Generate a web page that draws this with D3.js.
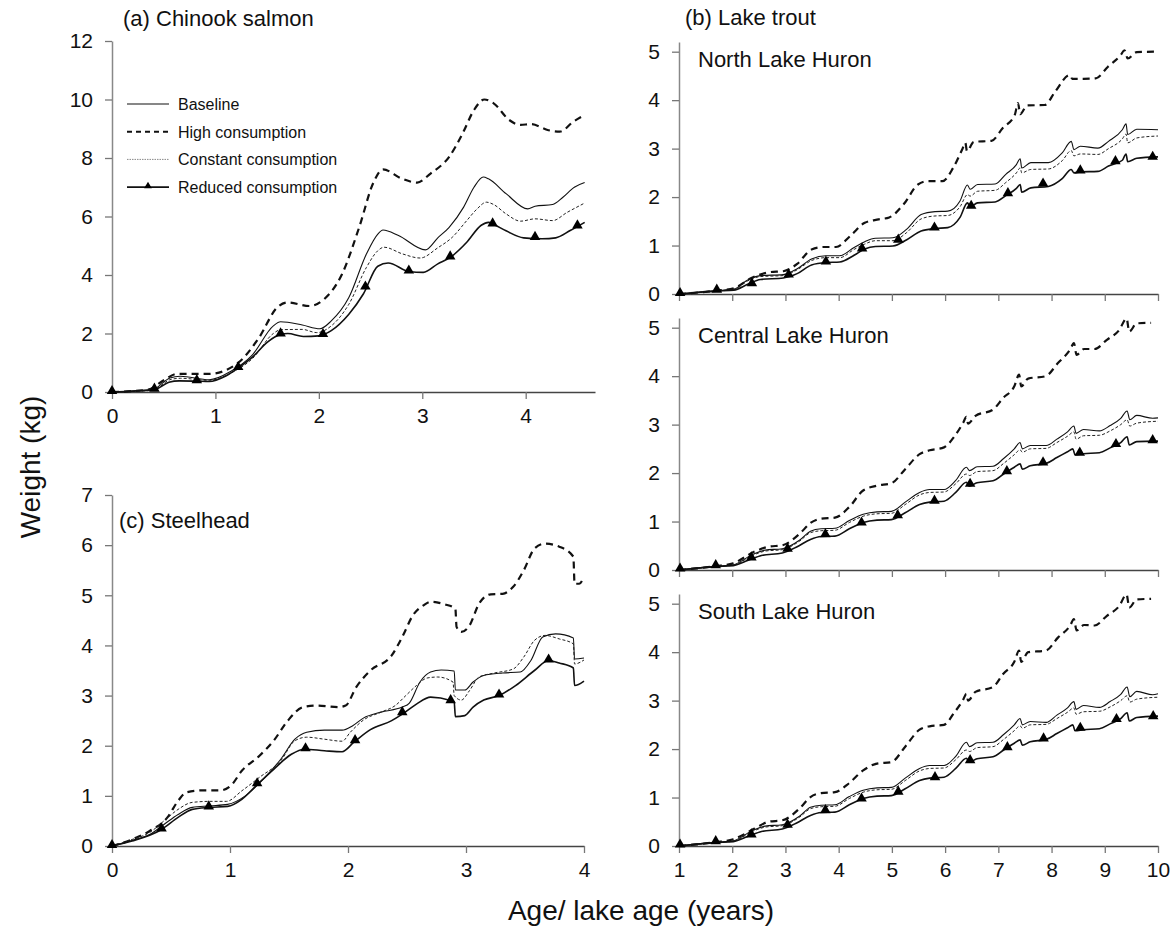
<!DOCTYPE html>
<html>
<head>
<meta charset="utf-8">
<script src="https://cdn.jsdelivr.net/npm/d3@7"></script>
<style>
  html, body { margin: 0; padding: 0; background: #fff; }
  svg { display: block; font-family: "Liberation Sans", Arial, sans-serif; }
</style>
</head>
<body>
<svg id="chart" width="1171" height="930"></svg>
<script>
// ---- Scenario names ----
const scenarios = ["Baseline", "High consumption", "Constant consumption", "Reduced consumption"];

// ---- (a) Chinook salmon: [age, weight kg] ----
const chinookBaseline = [[0,0],[0.39,0.08],[0.56,0.48],[0.66,0.54],[0.94,0.42],[1.15,0.71],[1.36,1.28],[1.56,2.26],[1.63,2.4],[1.84,2.29],[2.01,2.16],[2.12,2.43],[2.29,3.23],[2.46,4.72],[2.57,5.4],[2.62,5.54],[2.77,5.35],[3.03,4.86],[3.15,5.27],[3.26,5.63],[3.4,6.32],[3.5,7.0],[3.59,7.35],[3.64,7.29],[3.81,6.78],[4.02,6.26],[4.09,6.35],[4.26,6.41],[4.36,6.66],[4.47,7.0],[4.57,7.16]];
const chinookHigh = [[0,0],[0.35,0.08],[0.5,0.4],[0.63,0.62],[0.94,0.62],[1.22,1.0],[1.42,1.85],[1.6,2.9],[1.7,3.06],[1.91,2.94],[2.05,3.17],[2.22,4.0],[2.39,5.63],[2.53,7.18],[2.62,7.61],[2.8,7.3],[2.95,7.16],[3.08,7.47],[3.26,8.04],[3.39,8.84],[3.5,9.64],[3.6,10.0],[3.69,9.87],[3.84,9.3],[3.95,9.13],[4.05,9.16],[4.22,8.95],[4.33,8.9],[4.46,9.24],[4.57,9.47]];
const chinookConstant = [[0,0],[0.4,0.06],[0.56,0.42],[0.66,0.47],[0.94,0.4],[1.15,0.65],[1.36,1.15],[1.56,2.0],[1.63,2.13],[1.84,2.14],[1.98,2.03],[2.12,2.26],[2.29,3.0],[2.46,4.26],[2.57,4.83],[2.63,4.95],[2.81,4.72],[2.98,4.58],[3.15,4.93],[3.29,5.29],[3.43,5.86],[3.53,6.26],[3.62,6.49],[3.69,6.41],[3.81,6.09],[3.95,5.84],[4.09,5.92],[4.26,5.86],[4.4,6.14],[4.57,6.46]];
const chinookReduced = [[0,0],[0.41,0.08],[0.55,0.33],[0.65,0.38],[0.82,0.37],[0.94,0.36],[1.1,0.55],[1.22,0.82],[1.36,1.2],[1.5,1.7],[1.63,1.97],[1.7,2.0],[1.85,1.9],[2.0,1.92],[2.12,2.1],[2.29,2.66],[2.43,3.35],[2.57,4.3],[2.67,4.41],[2.87,4.12],[3.01,4.09],[3.15,4.38],[3.27,4.6],[3.43,5.12],[3.57,5.7],[3.64,5.8],[3.69,5.73],[3.81,5.51],[3.98,5.27],[4.16,5.24],[4.29,5.27],[4.43,5.52],[4.57,5.8]];
const chinookMarkers = [[0,0],[0.41,0.08],[0.82,0.37],[1.22,0.82],[1.63,1.97],[2.04,1.95],[2.45,3.57],[2.87,4.12],[3.27,4.6],[3.68,5.73],[4.09,5.27],[4.5,5.66]];

// ---- (c) Steelhead ----
const steelBaseline = [[0,0],[0.17,0.11],[0.32,0.23],[0.44,0.43],[0.56,0.63],[0.68,0.77],[0.83,0.8],[0.98,0.83],[1.13,1.0],[1.28,1.33],[1.43,1.73],[1.55,2.13],[1.65,2.27],[1.8,2.31],[1.95,2.31],[2.04,2.4],[2.13,2.55],[2.28,2.67],[2.46,2.77],[2.52,2.85],[2.61,3.27],[2.7,3.47],[2.79,3.51],[2.9,3.49],[2.91,3.11],[2.99,3.11],[3.06,3.27],[3.15,3.4],[3.31,3.45],[3.46,3.47],[3.55,3.7],[3.65,4.17],[3.76,4.23],[3.91,4.15],[3.92,3.73],[4.0,3.75]];
const steelHigh = [[0,0],[0.17,0.13],[0.32,0.3],[0.47,0.57],[0.56,0.9],[0.63,1.07],[0.77,1.11],[0.92,1.11],[1.01,1.21],[1.1,1.5],[1.25,1.8],[1.37,2.1],[1.49,2.5],[1.62,2.77],[1.74,2.8],[1.92,2.77],[1.98,2.8],[2.07,3.17],[2.19,3.5],[2.37,3.8],[2.46,4.17],[2.55,4.6],[2.64,4.8],[2.7,4.87],[2.82,4.82],[2.91,4.73],[2.92,4.37],[2.96,4.27],[3.03,4.4],[3.11,4.83],[3.21,5.02],[3.31,5.03],[3.4,5.17],[3.49,5.5],[3.58,5.93],[3.67,6.03],[3.79,5.97],[3.91,5.77],[3.92,5.23],[3.96,5.23],[4.0,5.37]];
const steelConstant = [[0,0],[0.17,0.13],[0.32,0.27],[0.44,0.5],[0.56,0.73],[0.68,0.87],[0.83,0.89],[0.97,0.89],[1.1,1.1],[1.25,1.37],[1.43,1.7],[1.55,2.1],[1.65,2.17],[1.8,2.13],[1.95,2.09],[2.02,2.27],[2.13,2.51],[2.28,2.67],[2.4,2.8],[2.49,3.0],[2.58,3.2],[2.67,3.35],[2.76,3.37],[2.89,3.27],[2.9,3.0],[2.96,2.91],[3.03,3.1],[3.11,3.37],[3.24,3.45],[3.4,3.53],[3.49,3.77],[3.58,4.1],[3.67,4.2],[3.79,4.13],[3.91,4.03],[3.92,3.63],[4.0,3.71]];
const steelReduced = [[0,0],[0.17,0.1],[0.42,0.33],[0.56,0.57],[0.68,0.73],[0.82,0.77],[0.98,0.79],[1.1,0.93],[1.22,1.2],[1.37,1.53],[1.52,1.83],[1.63,1.93],[1.8,1.9],[1.95,1.88],[2.05,2.07],[2.19,2.32],[2.37,2.5],[2.46,2.63],[2.58,2.83],[2.7,2.97],[2.87,2.9],[2.9,2.87],[2.91,2.58],[2.99,2.6],[3.06,2.77],[3.15,2.91],[3.28,3.0],[3.42,3.2],[3.58,3.5],[3.7,3.7],[3.79,3.65],[3.91,3.55],[3.92,3.2],[4.0,3.29]];
const steelMarkers = [[0,0],[0.42,0.33],[0.82,0.77],[1.23,1.23],[1.64,1.93],[2.06,2.09],[2.46,2.65],[2.87,2.89],[3.28,3.0],[3.7,3.7]];

// ---- (b) Lake trout, North Lake Huron: [lake age, weight kg] ----
const northBaseline = [[1,0],[1.7,0.07],[2.03,0.1],[2.29,0.29],[2.53,0.38],[2.96,0.4],[3.22,0.52],[3.49,0.72],[3.76,0.79],[4.02,0.79],[4.29,0.96],[4.49,1.08],[4.69,1.15],[5.02,1.16],[5.28,1.34],[5.55,1.64],[5.81,1.7],[6.05,1.71],[6.28,1.92],[6.42,2.25],[6.47,2.16],[6.61,2.26],[6.94,2.27],[7.14,2.47],[7.34,2.67],[7.41,2.79],[7.44,2.6],[7.61,2.71],[7.94,2.71],[8.2,2.91],[8.37,3.15],[8.42,2.98],[8.54,3.05],[8.87,3.01],[9.07,3.15],[9.33,3.39],[9.4,3.51],[9.43,3.29],[9.6,3.4],[10.0,3.39]];
const northHigh = [[1,0],[1.7,0.07],[2.03,0.12],[2.36,0.33],[2.7,0.45],[2.96,0.47],[3.22,0.62],[3.49,0.92],[3.72,0.97],[3.95,0.97],[4.22,1.2],[4.49,1.47],[4.75,1.54],[4.95,1.58],[5.22,1.85],[5.49,2.26],[5.68,2.33],[5.95,2.33],[6.15,2.6],[6.32,2.98],[6.38,3.12],[6.41,2.95],[6.54,3.14],[6.87,3.16],[7.08,3.42],[7.31,3.7],[7.37,3.94],[7.41,3.71],[7.54,3.89],[7.87,3.9],[8.07,4.18],[8.34,4.52],[8.39,4.44],[8.6,4.44],[8.83,4.45],[9.06,4.69],[9.3,4.93],[9.37,5.03],[9.43,4.86],[9.6,4.99],[9.93,5.0]];
const northConstant = [[1,0],[1.7,0.06],[2.03,0.09],[2.29,0.27],[2.53,0.36],[2.96,0.38],[3.22,0.5],[3.49,0.69],[3.76,0.75],[4.02,0.75],[4.29,0.92],[4.49,1.03],[4.69,1.1],[5.02,1.1],[5.28,1.27],[5.55,1.55],[5.81,1.61],[6.05,1.62],[6.28,1.8],[6.42,2.05],[6.47,2.02],[6.61,2.12],[6.94,2.14],[7.14,2.3],[7.34,2.5],[7.41,2.6],[7.44,2.5],[7.61,2.57],[7.94,2.58],[8.2,2.75],[8.37,2.96],[8.42,2.85],[8.54,2.89],[8.87,2.88],[9.07,3.0],[9.33,3.2],[9.4,3.3],[9.43,3.12],[9.6,3.22],[10.0,3.26]];
const northReduced = [[1,0],[1.7,0.06],[2.03,0.08],[2.29,0.2],[2.53,0.3],[2.96,0.33],[3.22,0.42],[3.49,0.6],[3.76,0.65],[4.02,0.66],[4.29,0.8],[4.49,0.93],[4.69,0.98],[5.02,0.99],[5.28,1.12],[5.55,1.3],[5.81,1.35],[6.05,1.37],[6.28,1.58],[6.42,1.88],[6.47,1.8],[6.61,1.88],[6.94,1.9],[7.14,2.03],[7.34,2.18],[7.41,2.26],[7.44,2.1],[7.61,2.19],[7.94,2.22],[8.2,2.38],[8.37,2.57],[8.42,2.5],[8.54,2.52],[8.87,2.53],[9.07,2.64],[9.33,2.76],[9.4,2.89],[9.43,2.73],[9.6,2.8],[10.0,2.83]];
const northMarkers = [[1.02,0],[1.71,0.07],[2.37,0.2],[3.06,0.38],[3.76,0.65],[4.44,0.92],[5.12,1.1],[5.8,1.35],[6.49,1.8],[7.18,2.06],[7.84,2.26],[8.54,2.53],[9.2,2.72],[9.9,2.81]];

// ---- (b) Lake trout, Central Lake Huron ----
const centralBaseline = [[1,0],[1.69,0.08],[2.02,0.11],[2.4,0.33],[2.62,0.41],[2.94,0.44],[3.27,0.62],[3.47,0.8],[3.67,0.85],[3.93,0.86],[4.2,1.02],[4.46,1.15],[4.72,1.2],[4.99,1.21],[5.25,1.4],[5.52,1.6],[5.71,1.66],[5.98,1.66],[6.2,1.85],[6.4,2.12],[6.46,2.05],[6.6,2.13],[6.9,2.14],[7.1,2.3],[7.3,2.5],[7.41,2.63],[7.45,2.5],[7.6,2.57],[7.9,2.57],[8.1,2.7],[8.3,2.85],[8.42,2.97],[8.46,2.82],[8.6,2.9],[8.9,2.87],[9.1,2.98],[9.3,3.13],[9.42,3.28],[9.47,3.1],[9.6,3.19],[9.9,3.13],[10.0,3.14]];
const centralHigh = [[1,0],[1.69,0.08],[2.02,0.14],[2.42,0.38],[2.68,0.48],[2.94,0.51],[3.27,0.75],[3.47,0.97],[3.67,1.06],[3.93,1.08],[4.2,1.3],[4.46,1.64],[4.72,1.74],[4.99,1.79],[5.25,2.08],[5.52,2.39],[5.71,2.47],[5.98,2.53],[6.17,2.75],[6.34,3.04],[6.4,3.16],[6.43,3.02],[6.57,3.18],[6.9,3.31],[7.09,3.55],[7.3,3.79],[7.39,4.03],[7.43,3.79],[7.56,3.95],[7.89,4.0],[8.12,4.27],[8.35,4.55],[8.42,4.68],[8.47,4.44],[8.61,4.56],[8.81,4.56],[9.04,4.75],[9.27,4.95],[9.41,5.19],[9.46,4.92],[9.6,5.09],[9.87,5.1]];
const centralConstant = [[1,0],[1.69,0.07],[2.02,0.1],[2.4,0.31],[2.62,0.39],[2.94,0.42],[3.27,0.6],[3.47,0.77],[3.67,0.81],[3.93,0.82],[4.2,0.98],[4.46,1.11],[4.72,1.16],[4.99,1.17],[5.25,1.35],[5.52,1.55],[5.71,1.6],[5.98,1.61],[6.2,1.78],[6.4,1.98],[6.46,1.95],[6.6,2.03],[6.9,2.05],[7.1,2.2],[7.3,2.38],[7.41,2.48],[7.45,2.43],[7.6,2.5],[7.9,2.51],[8.1,2.63],[8.3,2.76],[8.42,2.85],[8.46,2.7],[8.6,2.77],[8.9,2.78],[9.1,2.87],[9.3,3.0],[9.42,3.1],[9.47,2.97],[9.6,3.03],[10.0,3.07]];
const centralReduced = [[1,0],[1.69,0.07],[2.02,0.09],[2.3,0.2],[2.55,0.3],[2.94,0.35],[3.22,0.48],[3.47,0.63],[3.67,0.69],[3.93,0.7],[4.2,0.85],[4.46,0.98],[4.72,1.03],[4.99,1.04],[5.25,1.18],[5.52,1.35],[5.71,1.4],[5.98,1.42],[6.2,1.6],[6.4,1.81],[6.45,1.73],[6.6,1.8],[6.9,1.84],[7.1,1.98],[7.3,2.12],[7.41,2.19],[7.45,2.08],[7.6,2.15],[7.9,2.2],[8.1,2.32],[8.3,2.44],[8.4,2.5],[8.44,2.38],[8.6,2.4],[8.9,2.42],[9.1,2.52],[9.3,2.63],[9.42,2.75],[9.46,2.58],[9.6,2.65],[10.0,2.66]];
const centralMarkers = [[1.02,0.01],[1.69,0.08],[2.36,0.24],[3.04,0.42],[3.75,0.72],[4.43,0.96],[5.11,1.11],[5.8,1.41],[6.47,1.76],[7.16,2.02],[7.84,2.2],[8.53,2.4],[9.21,2.58],[9.9,2.66]];

// ---- (b) Lake trout, South Lake Huron ----
const southBaseline = [[1,0],[1.69,0.08],[2.02,0.11],[2.4,0.33],[2.62,0.41],[2.94,0.44],[3.27,0.62],[3.47,0.8],[3.67,0.84],[3.93,0.85],[4.2,1.02],[4.46,1.15],[4.72,1.2],[4.99,1.21],[5.25,1.4],[5.52,1.6],[5.71,1.66],[5.98,1.66],[6.2,1.85],[6.4,2.14],[6.46,2.05],[6.6,2.13],[6.9,2.14],[7.1,2.3],[7.3,2.5],[7.41,2.63],[7.45,2.5],[7.6,2.57],[7.9,2.55],[8.1,2.7],[8.3,2.85],[8.42,2.98],[8.46,2.82],[8.6,2.9],[8.9,2.86],[9.1,2.98],[9.3,3.13],[9.42,3.28],[9.47,3.08],[9.6,3.19],[9.9,3.12],[10.0,3.14]];
const southHigh = [[1,0],[1.69,0.08],[2.02,0.14],[2.42,0.36],[2.68,0.5],[2.94,0.53],[3.27,0.78],[3.47,1.01],[3.67,1.09],[3.93,1.11],[4.2,1.3],[4.46,1.56],[4.72,1.7],[4.99,1.73],[5.25,2.05],[5.52,2.4],[5.71,2.47],[5.98,2.5],[6.17,2.75],[6.34,3.02],[6.4,3.14],[6.43,3.0],[6.57,3.18],[6.9,3.28],[7.09,3.55],[7.3,3.8],[7.39,4.03],[7.43,3.8],[7.56,4.0],[7.89,4.03],[8.12,4.3],[8.35,4.55],[8.42,4.68],[8.47,4.45],[8.61,4.56],[8.81,4.55],[9.04,4.75],[9.27,4.95],[9.41,5.19],[9.46,4.92],[9.6,5.09],[9.87,5.1]];
const southConstant = [[1,0],[1.69,0.07],[2.02,0.1],[2.4,0.31],[2.62,0.39],[2.94,0.42],[3.27,0.6],[3.47,0.77],[3.67,0.81],[3.93,0.82],[4.2,0.98],[4.46,1.11],[4.72,1.16],[4.99,1.17],[5.25,1.35],[5.52,1.55],[5.71,1.6],[5.98,1.61],[6.2,1.78],[6.4,1.98],[6.46,1.95],[6.6,2.03],[6.9,2.05],[7.1,2.2],[7.3,2.38],[7.41,2.48],[7.45,2.43],[7.6,2.5],[7.9,2.51],[8.1,2.63],[8.3,2.76],[8.42,2.85],[8.46,2.72],[8.6,2.77],[8.9,2.78],[9.1,2.87],[9.3,3.0],[9.42,3.1],[9.47,2.97],[9.6,3.03],[10.0,3.07]];
const southReduced = [[1,0],[1.69,0.07],[2.02,0.09],[2.3,0.2],[2.55,0.3],[2.94,0.35],[3.22,0.48],[3.47,0.63],[3.67,0.69],[3.93,0.7],[4.2,0.85],[4.46,0.98],[4.72,1.03],[4.99,1.04],[5.25,1.18],[5.52,1.35],[5.71,1.4],[5.98,1.42],[6.2,1.6],[6.4,1.81],[6.45,1.73],[6.6,1.8],[6.9,1.84],[7.1,1.98],[7.3,2.12],[7.41,2.19],[7.45,2.08],[7.6,2.15],[7.9,2.2],[8.1,2.32],[8.3,2.44],[8.4,2.5],[8.44,2.38],[8.6,2.4],[8.9,2.42],[9.1,2.52],[9.3,2.63],[9.42,2.75],[9.46,2.58],[9.6,2.65],[10.0,2.68]];
const southMarkers = [[1.02,0.01],[1.69,0.08],[2.36,0.22],[3.04,0.42],[3.75,0.72],[4.43,0.96],[5.12,1.1],[5.81,1.4],[6.47,1.75],[7.17,2.02],[7.85,2.2],[8.54,2.42],[9.22,2.6],[9.91,2.66]];

// ---- Tick values ----
const chinookYTicks = [0, 2, 4, 6, 8, 10, 12];
const chinookXTicks = [0, 1, 2, 3, 4];
const steelYTicks = [0, 1, 2, 3, 4, 5, 6, 7];
const steelXTicks = [0, 1, 2, 3, 4];
const troutYTicks = [0, 1, 2, 3, 4, 5];
const troutXTicks = [1, 2, 3, 4, 5, 6, 7, 8, 9, 10];

// ---- Line styles per scenario ----
const styles = {
  "Baseline":             { width: 1.1, dash: null,  color: "#111" },
  "High consumption":     { width: 2.2, dash: "7,5", color: "#111" },
  "Constant consumption": { width: 1.0, dash: "3,2", color: "#222" },
  "Reduced consumption":  { width: 1.6, dash: null,  color: "#111" }
};

const svg = d3.select("#chart");
const FONT = '"Liberation Sans", Arial, sans-serif';
const TICK_FONT = 21;
const TITLE_FONT = 22;
const intFormat = d3.format("d");

function drawPanel(p) {
  const x = d3.scaleLinear().domain(p.xDomain).range(p.xRange);
  const y = d3.scaleLinear().domain(p.yDomain).range(p.yRange);
  const g = svg.append("g");

  // axes
  const xAxis = d3.axisBottom(x).tickValues(p.xTicks).tickSize(7).tickSizeOuter(0).tickPadding(9)
    .tickFormat(p.xLabels ? intFormat : () => "");
  const gx = g.append("g").attr("transform", `translate(0,${p.yRange[0]})`).call(xAxis);
  gx.select(".domain").attr("stroke", "#444").attr("stroke-width", 1.3);
  gx.selectAll(".tick line").attr("stroke", "#777").attr("stroke-width", 1.3);
  gx.selectAll(".tick text").attr("font-size", TICK_FONT).attr("font-family", FONT).attr("fill", "#111");

  const yAxis = d3.axisLeft(y).tickValues(p.yTicks).tickSize(7).tickSizeOuter(0).tickPadding(12).tickFormat(intFormat);
  const gy = g.append("g").attr("transform", `translate(${p.xRange[0]},0)`).call(yAxis);
  gy.select(".domain").attr("stroke", "#888").attr("stroke-width", 1.5);
  gy.selectAll(".tick line").attr("stroke", "#777").attr("stroke-width", 1.3);
  gy.selectAll(".tick text").attr("font-size", TICK_FONT).attr("font-family", FONT).attr("fill", "#111");

  const line = d3.line().x(d => x(d[0])).y(d => y(d[1])).curve(d3.curveMonotoneX);

  p.series.forEach((s, i) => {
    const st = styles[scenarios[i]];
    g.append("path")
      .datum(s)
      .attr("fill", "none")
      .attr("stroke", st.color)
      .attr("stroke-width", st.width)
      .attr("stroke-dasharray", st.dash)
      .attr("stroke-linejoin", "round")
      .attr("d", line);
  });

  const tri = d3.symbol().type(d3.symbolTriangle).size(48);
  g.selectAll("path.marker")
    .data(p.markers)
    .join("path")
    .attr("class", "marker")
    .attr("transform", d => `translate(${x(d[0])},${y(d[1]) - 1})`)
    .attr("d", tri)
    .attr("fill", "#000");

  p.labels.forEach(l => {
    g.append("text")
      .attr("x", l.x).attr("y", l.y)
      .attr("font-size", TITLE_FONT).attr("font-family", FONT).attr("fill", "#111")
      .text(l.text);
  });
}

drawPanel({
  xDomain: [0, 4.67], xRange: [112, 595],
  yDomain: [0, 12], yRange: [392, 41],
  xTicks: chinookXTicks, yTicks: chinookYTicks, xLabels: true,
  series: [chinookBaseline, chinookHigh, chinookConstant, chinookReduced],
  markers: chinookMarkers,
  labels: [{ text: "(a) Chinook salmon", x: 123, y: 26 }]
});

drawPanel({
  xDomain: [0, 4], xRange: [112, 584],
  yDomain: [0, 7], yRange: [846, 495],
  xTicks: steelXTicks, yTicks: steelYTicks, xLabels: true,
  series: [steelBaseline, steelHigh, steelConstant, steelReduced],
  markers: steelMarkers,
  labels: [{ text: "(c) Steelhead", x: 119, y: 528 }]
});

drawPanel({
  xDomain: [1, 10], xRange: [679, 1158],
  yDomain: [0, 5.2], yRange: [294, 42],
  xTicks: troutXTicks, yTicks: troutYTicks, xLabels: false,
  series: [northBaseline, northHigh, northConstant, northReduced],
  markers: northMarkers,
  labels: [
    { text: "(b) Lake trout", x: 685, y: 25 },
    { text: "North Lake Huron", x: 698, y: 67 }
  ]
});

drawPanel({
  xDomain: [1, 10], xRange: [679, 1158],
  yDomain: [0, 5.2], yRange: [570, 318],
  xTicks: troutXTicks, yTicks: troutYTicks, xLabels: false,
  series: [centralBaseline, centralHigh, centralConstant, centralReduced],
  markers: centralMarkers,
  labels: [{ text: "Central Lake Huron", x: 698, y: 343 }]
});

drawPanel({
  xDomain: [1, 10], xRange: [679, 1158],
  yDomain: [0, 5.2], yRange: [846, 594],
  xTicks: troutXTicks, yTicks: troutYTicks, xLabels: true,
  series: [southBaseline, southHigh, southConstant, southReduced],
  markers: southMarkers,
  labels: [{ text: "South Lake Huron", x: 698, y: 619 }]
});

// legend inside panel (a)
const legend = svg.append("g");
scenarios.forEach((name, i) => {
  const st = styles[name];
  const cy = 104 + i * 27.7;
  legend.append("line")
    .attr("x1", 127).attr("x2", 169).attr("y1", cy).attr("y2", cy)
    .attr("stroke", name === "Constant consumption" ? "#888" : st.color)
    .attr("stroke-width", name === "High consumption" ? 2 : (name === "Constant consumption" ? 1 : st.width))
    .attr("stroke-dasharray", name === "High consumption" ? "5,4" : (name === "Constant consumption" ? "1.5,1" : null));
  if (name === "Reduced consumption") {
    legend.append("path")
      .attr("d", d3.symbol().type(d3.symbolTriangle).size(26)())
      .attr("transform", `translate(148,${cy - 1})`)
      .attr("fill", "#000");
  }
  legend.append("text")
    .attr("x", 178).attr("y", cy + 6)
    .attr("font-size", 16).attr("font-family", FONT).attr("fill", "#111")
    .text(name);
});

// shared axis titles
svg.append("text")
  .attr("transform", "translate(40,467) rotate(-90)")
  .attr("text-anchor", "middle")
  .attr("font-size", 28).attr("font-family", FONT).attr("fill", "#111")
  .text("Weight (kg)");

svg.append("text")
  .attr("x", 641).attr("y", 920)
  .attr("text-anchor", "middle")
  .attr("font-size", 28).attr("font-family", FONT).attr("fill", "#111")
  .text("Age/ lake age (years)");
</script>
</body>
</html>
